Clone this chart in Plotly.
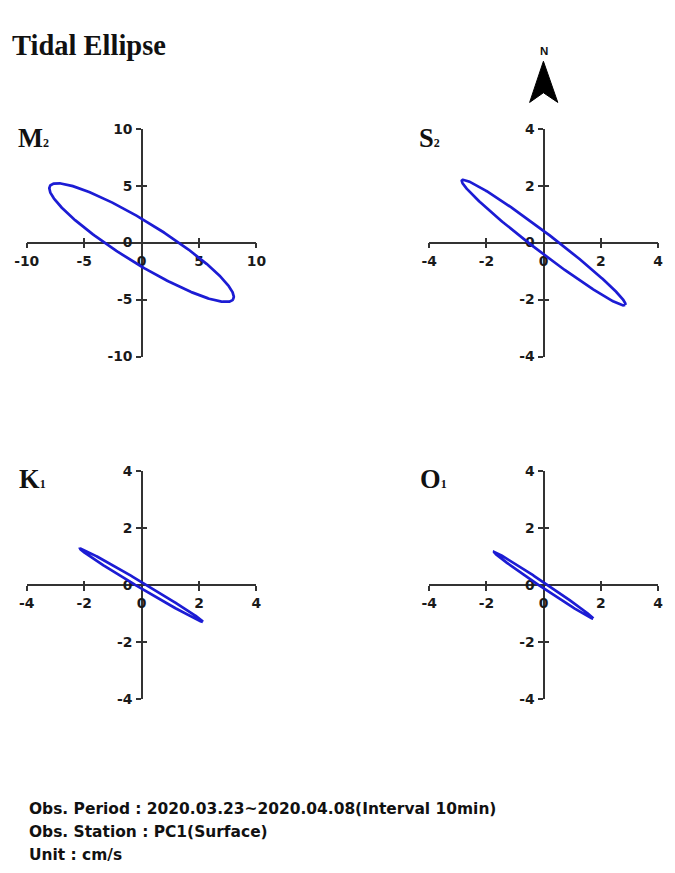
import numpy as np
import plotly.graph_objects as go

# ---------------- data ----------------
constituents = ["M2", "S2", "K1", "O1"]
label_html = ["M<span style='font-size:12px'>2</span>", "S<span style='font-size:12px'>2</span>",
              "K<span style='font-size:12px'>1</span>", "O<span style='font-size:12px'>1</span>"]
semi_major = [9.4, 3.6, 2.49, 2.09]        # cm/s
semi_minor = [1.8, 0.33, 0.10, 0.09]       # cm/s
inclination = [-32.0, -37.5, -31.0, -34.0] # degrees from east (ccw)
axis_limit = [10, 4, 4, 4]
tick_values = [[-10, -5, 0, 5, 10], [-4, -2, 0, 2, 4], [-4, -2, 0, 2, 4], [-4, -2, 0, 2, 4]]
tick_text = [["-10", "-5", "0", "5", "10"], ["-4", "-2", "0", "2", "4"],
             ["-4", "-2", "0", "2", "4"], ["-4", "-2", "0", "2", "4"]]

info_lines = ["Obs. Period : 2020.03.23~2020.04.08(Interval 10min)",
              "Obs. Station : PC1(Surface)",
              "Unit : cm/s"]

W, H = 675, 873
# mapping compensation between page and photographed image
AXS, CX, AYS, CY = 0.967, 12.3, 0.9825, 6.2
def px(x):
    return (x - CX) / AXS / W
def py(y):
    return 1 - (y - CY) / AYS / H

# panel geometry (reference pixels)
x_dom_px = [(26, 256), (429, 658), (26, 256), (429, 658)]
y_dom_px = [(127, 355), (127, 355), (470, 698), (470, 698)]
label_pos = [(15, 136), (417, 136), (16, 478), (418, 478)]

ELL_COLOR = "#1c1cd4"
AX_COLOR = "#333333"
tickfont = dict(family="DejaVu Sans", size=13.9, color="#1a1a1a", weight="bold")

fig = go.Figure()
layout = {}
annotations = []

t = np.linspace(0, 2 * np.pi, 361)
for i in range(4):
    a, b, th = semi_major[i], semi_minor[i], np.deg2rad(inclination[i])
    xe = a * np.cos(t) * np.cos(th) - b * np.sin(t) * np.sin(th)
    ye = a * np.cos(t) * np.sin(th) + b * np.sin(t) * np.cos(th)
    n = i + 1
    xa = "x" if n == 1 else f"x{n}"
    ya = "y" if n == 1 else f"y{n}"
    fig.add_trace(go.Scatter(x=xe, y=ye, mode="lines", xaxis=xa, yaxis=ya,
                             line=dict(color=ELL_COLOR, width=2.7), hoverinfo="skip",
                             showlegend=False))
    m = i + 5
    fig.add_trace(go.Scatter(x=[None], y=[None], mode="lines", xaxis=f"x{m}", yaxis=f"y{m}",
                             showlegend=False, hoverinfo="skip"))
    xd = [px(x_dom_px[i][0]), px(x_dom_px[i][1])]
    yd = [py(y_dom_px[i][1]), py(y_dom_px[i][0])]
    xmid = (xd[0] + xd[1]) / 2
    ymid = (yd[0] + yd[1]) / 2
    L = axis_limit[i]
    key_x = "xaxis" if n == 1 else f"xaxis{n}"
    key_y = "yaxis" if n == 1 else f"yaxis{n}"
    common = dict(range=[-L, L], tickmode="array", tickvals=tick_values[i],
                  ticktext=tick_text[i],
                  showgrid=False, zeroline=False, ticklen=4.5, tickwidth=1.5,
                  tickcolor=AX_COLOR, fixedrange=True, layer="below traces")
    layout[key_x] = dict(domain=xd, anchor="free", position=ymid, showline=True,
                         linecolor=AX_COLOR, linewidth=1.5, ticks="outside",
                         tickfont=tickfont, ticklabelstandoff=1, **common)
    layout[key_y] = dict(domain=yd, anchor="free", position=xmid, showline=True,
                         linecolor=AX_COLOR, linewidth=1.5, ticks="outside",
                         tickfont=tickfont, ticklabelstandoff=1, **common)
    layout[f"xaxis{m}"] = dict(overlaying=xa, anchor="free", position=ymid, showline=False,
                               ticks="inside", showticklabels=False, **common)
    layout[f"yaxis{m}"] = dict(overlaying=ya, anchor="free", position=xmid, showline=False,
                               ticks="inside", showticklabels=False, **common)
    lx, ly = label_pos[i]
    annotations.append(dict(x=px(lx), y=py(ly), xref="paper", yref="paper",
                            xanchor="left", yanchor="middle", showarrow=False,
                            text="<b>" + label_html[i] + "</b>",
                            font=dict(family="Liberation Serif, Times New Roman", size=26.5,
                                      color="#111111")))

annotations.append(dict(x=px(9.5), y=py(43.5), xref="paper", yref="paper", xanchor="left",
                        yanchor="middle", showarrow=False, text="<b>Tidal Ellipse</b>",
                        font=dict(family="Liberation Serif, Times New Roman", size=28.5,
                                  color="#111111")))
annotations.append(dict(x=px(543.5), y=py(49), xref="paper", yref="paper", xanchor="center",
                        yanchor="middle", showarrow=False, text="<b>N</b>",
                        font=dict(family="Liberation Sans, Arial", size=11.5, color="#111111")))
for k, line in enumerate(info_lines):
    annotations.append(dict(x=px(26), y=py(808 + 23 * k), xref="paper", yref="paper",
                            xanchor="left", yanchor="middle", showarrow=False,
                            text="<b>" + line + "</b>",
                            font=dict(family="DejaVu Sans", size=15.45,
                                      color="#111111")))

pts = [(543.3, 59.5), (557.7, 100.7), (543.3, 91.0), (529.5, 100.7)]
path = "M " + " L ".join(f"{px(x):.5f},{py(y):.5f}" for x, y in pts) + " Z"
shapes = [dict(type="path", path=path, xref="paper", yref="paper",
               fillcolor="#000000", line=dict(color="#000000", width=1))]

fig.update_layout(width=W, height=H, autosize=False,
                  margin=dict(l=0, r=0, t=0, b=0, pad=0),
                  paper_bgcolor="white", plot_bgcolor="rgba(0,0,0,0)",
                  annotations=annotations, shapes=shapes, showlegend=False,
                  **layout)

fig.write_html("out.html", config={"displayModeBar": False},
               post_script="document.body.style.margin='0';document.body.style.overflow='hidden';")
